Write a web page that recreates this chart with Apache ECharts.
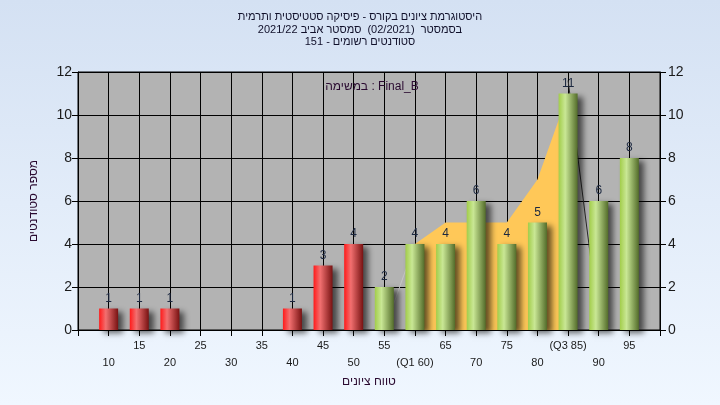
<!DOCTYPE html>
<html>
<head>
<meta charset="utf-8">
<script src="https://cdn.jsdelivr.net/npm/echarts@6/dist/echarts.min.js"></script>
<style>
html,body{margin:0;padding:0;}
#c{width:720px;height:405px;background:linear-gradient(to bottom,#d4e1f3,#f0f7ff);}
</style>
</head>
<body>
<div id="c"></div>
<script>
// ---- data ----
const scores = [10,15,20,25,30,35,40,45,50,55,60,65,70,75,80,85,90,95];
const counts = [1,1,1,0,0,0,1,3,4,2,4,4,6,4,5,11,6,8];
const tickLabels = ['10','15','20','25','30','35','40','45','50','55','(Q1 60)','65','70','75','80','(Q3 85)','90','95'];
const passScore = 55;
const bandScores = [60,65,70,75,80,85];
const bandValues = [4,5,5,5,7,11];
const leadScores = [55,60];
const leadValues = [0,4];
const dropScores = [85,90];
const dropValues = [11.6,0.4];
const titleLines = ['היסטוגרמת ציונים בקורס - פיסיקה סטטיסטית ותרמית','בסמסטר  (02/2021)  סמסטר אביב 2021/22','סטודנטים רשומים - 151'];
const legendText = 'במשימה : Final_B';
const xName = 'טווח ציונים';
const yName = 'מספר סטודנטים';

const FONT = 'Liberation Sans';
const chart = echarts.init(document.getElementById('c'), null, {renderer:'canvas'});

function grad(c0,c1,c2){
  return {type:'linear',x:0,y:0,x2:1,y2:0,colorStops:[
    {offset:0,color:c0},{offset:0.35,color:c1},{offset:1,color:c2}]};
}
const redG = grad('#ff1a1a','#f27070','#781212');
const greenG = grad('#a2cd4a','#c9e795','#536c2a');

const barData = scores.map((s,i)=>{
  const v = counts[i];
  const item = {value:[s,v], itemStyle:{color: s < passScore ? redG : greenG}};
  if (v === 0) { item.itemStyle.opacity = 0; item.label = {show:false}; }
  return item;
});
const labelMap = {};
scores.forEach((s,i)=>{ labelMap[s] = tickLabels[i]; });

const yAxisCommon = {
  type:'value', min:0, max:12, interval:2,
  axisLine:{show:true,lineStyle:{color:'#000',width:1}},
  axisTick:{show:true,length:6,lineStyle:{color:'#000'}},
  axisLabel:{color:'#1a1a1a',fontSize:14,fontFamily:FONT,margin:6},
  splitLine:{show:true,lineStyle:{color:'#000',width:1}}
};

chart.setOption({
  backgroundColor:'transparent',
  animation:false,
  title:[{
    text: titleLines.join('\n'),
    left:'center', top:6,
    textStyle:{fontSize:11,fontWeight:'normal',color:'#10102a',fontFamily:FONT,lineHeight:12.5}
  },{
    text: legendText,
    left:367, top:76, textAlign:'center',
    textStyle:{fontSize:12,fontWeight:'normal',color:'#2a0a30',fontFamily:FONT}
  }],
  grid:{left:78,right:60,top:72,bottom:75,show:true,backgroundColor:'#b3b3b3',borderColor:'#000',borderWidth:1},
  xAxis:{
    type:'value', min:5, max:100, interval:5,
    name:xName, nameLocation:'middle', nameGap:45,
    nameTextStyle:{fontSize:12,color:'#2a0a30',fontFamily:FONT},
    axisLine:{show:true,lineStyle:{color:'#000'}},
    axisTick:{show:true,length:6,lineStyle:{color:'#000'}},
    splitLine:{show:true,lineStyle:{color:'#000',width:1}},
    axisLabel:{
      color:'#1a1a1a',fontSize:11,fontFamily:FONT,margin:7,lineHeight:17,
      showMinLabel:true,showMaxLabel:true,
      formatter:function(v){
        const t = labelMap[v];
        if (t === undefined) return '';
        return (v % 10 === 5) ? t : '\n' + t;
      }
    }
  },
  yAxis:[
    Object.assign({}, yAxisCommon, {position:'left', name:yName, nameLocation:'middle', nameGap:38,
      nameTextStyle:{fontSize:12,color:'#2a0a30',fontFamily:FONT}}),
    Object.assign({}, yAxisCommon, {position:'right', splitLine:{show:false},
      axisLabel:{color:'#1a1a1a',fontSize:14,fontFamily:FONT,margin:8}})
  ],
  series:[
    {
      type:'line', z:1, data: bandScores.map((s,i)=>[s,bandValues[i]]),
      symbol:'none', lineStyle:{width:0}, areaStyle:{color:'#ffc858',opacity:1}
    },
    {
      type:'line', z:1, data: leadScores.map((s,i)=>[s,leadValues[i]]),
      symbol:'none', lineStyle:{width:1,color:'#c6c6c6'}
    },
    {
      type:'line', z:1, data: dropScores.map((s,i)=>[s,dropValues[i]]),
      symbol:'none', lineStyle:{width:1,color:'#2a2a2a'}
    },
    {
      type:'bar', z:3, barWidth:19, data:barData,
      itemStyle:{shadowColor:'rgba(0,0,0,0.6)',shadowBlur:6,shadowOffsetX:5,shadowOffsetY:3},
      label:{show:true,position:'top',distance:4,color:'#1c2840',fontSize:12,fontFamily:FONT,
        formatter:function(p){return p.value[1];}}
    }
  ]
});
</script>
</body>
</html>
